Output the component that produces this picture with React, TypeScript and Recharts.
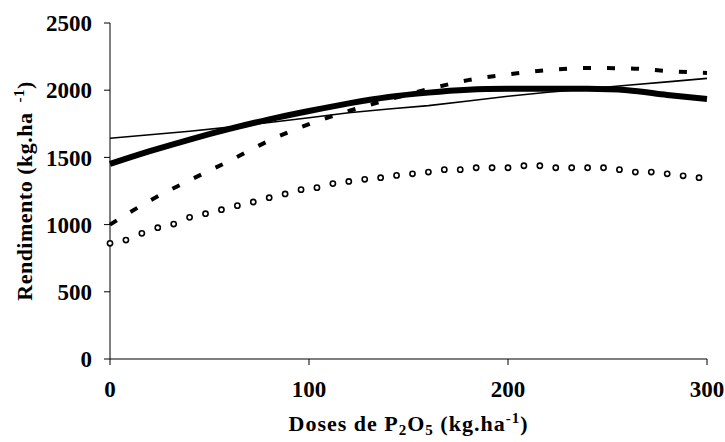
import { LineChart, Line, XAxis, YAxis, Label } from 'recharts'

// Doses de P2O5 (kg/ha) and yield (kg/ha)
const doses = [0, 20, 40, 60, 80, 100, 120, 140, 160, 180, 200, 220, 240, 260, 280, 300]
const thinLine = [1642, 1668, 1695, 1725, 1760, 1795, 1832, 1860, 1885, 1920, 1955, 1985, 2010, 2037, 2062, 2088]
const thickLine = [1451, 1546, 1633, 1712, 1783, 1845, 1902, 1950, 1982, 2003, 2010, 2011, 2010, 2000, 1965, 1935]
const dashedLine = [1000, 1178, 1330, 1474, 1625, 1748, 1845, 1930, 2008, 2075, 2118, 2150, 2165, 2163, 2143, 2128]

// the circle series is sampled much more densely
const circleDoses = [
  0, 8, 16, 24, 32, 40, 48, 56, 64, 72, 80, 88, 96, 104, 112, 120, 128, 136, 144,
  152, 160, 168, 176, 184, 192, 200, 208, 216, 224, 232, 240, 248, 256, 264, 272, 280, 288, 296,
]
const circleValues = [
  861, 885, 935, 977, 1004, 1054, 1081, 1111, 1141, 1168, 1200, 1228, 1260, 1275, 1305, 1321,
  1337, 1349, 1366, 1378, 1391, 1409, 1409, 1423, 1423, 1423, 1438, 1438, 1423, 1423, 1423, 1423,
  1409, 1391, 1391, 1378, 1363, 1349,
]

const xTicks = [0, 100, 200, 300]
const yTicks = [0, 500, 1000, 1500, 2000, 2500]

const toRows = (xs: number[], ys: number[]) => xs.map((x, i) => ({ x, y: ys[i] }))

const FONT = "'Liberation Serif', 'Times New Roman', serif"
const tickStyle = { fill: '#000', fontFamily: FONT, fontSize: 23, fontWeight: 700 }

const XTitle = ({ viewBox }: any) => {
  const cx = viewBox.x + viewBox.width / 2
  return (
    <text
      x={cx}
      y={431}
      textAnchor="middle"
      fontFamily={FONT}
      fontSize={22}
      fontWeight={700}
      letterSpacing={1}
      fill="#000"
    >
      Doses de P
      <tspan fontSize={15} dy={4}>2</tspan>
      <tspan fontSize={22} dy={-4}>O</tspan>
      <tspan fontSize={15} dy={4}>5</tspan>
      <tspan fontSize={22} dy={-4}> (kg.ha</tspan>
      <tspan fontSize={15} dy={-8}>-1</tspan>
      <tspan fontSize={22} dy={8}>)</tspan>
    </text>
  )
}

const YTitle = ({ viewBox }: any) => {
  const cy = viewBox.y + viewBox.height / 2
  return (
    <text
      x={0}
      y={0}
      transform={`translate(32, ${cy}) rotate(-90)`}
      textAnchor="middle"
      fontFamily={FONT}
      fontSize={22}
      fontWeight={700}
      letterSpacing={0.5}
      fill="#000"
    >
      Rendimento (kg.ha
      <tspan fontSize={15} dx={10} dy={-8}>-1</tspan>
      <tspan fontSize={22} dy={8}>)</tspan>
    </text>
  )
}

export default function App() {
  return (
    <div style={{ position: 'absolute', left: 0, top: 0, background: '#fff' }}>
      <LineChart width={725} height={442} margin={{ top: 23, right: 18, bottom: 0, left: 0 }}>
        <XAxis
          dataKey="x"
          type="number"
          domain={[0, 300]}
          ticks={xTicks}
          interval={0}
          height={83}
          tickSize={6}
          tickMargin={16}
          tick={tickStyle}
          axisLine={{ stroke: '#000' }}
          tickLine={{ stroke: '#000' }}
          allowDuplicatedCategory={false}
        >
          <Label content={XTitle} />
        </XAxis>
        <YAxis
          type="number"
          domain={[0, 2500]}
          ticks={yTicks}
          interval={0}
          width={110}
          tickSize={6}
          tickMargin={12}
          tick={tickStyle}
          axisLine={{ stroke: '#000' }}
          tickLine={{ stroke: '#000' }}
        >
          <Label content={YTitle} />
        </YAxis>
        <Line
          data={toRows(doses, thinLine)}
          dataKey="y"
          stroke="#000"
          strokeWidth={1.6}
          dot={false}
          isAnimationActive={false}
        />
        <Line
          data={toRows(doses, thickLine)}
          dataKey="y"
          type="monotone"
          stroke="#000"
          strokeWidth={6}
          dot={false}
          isAnimationActive={false}
        />
        <Line
          data={toRows(doses, dashedLine)}
          dataKey="y"
          type="monotone"
          stroke="#000"
          strokeWidth={4}
          strokeDasharray="8 16"
          dot={false}
          isAnimationActive={false}
        />
        <Line
          data={toRows(circleDoses, circleValues)}
          dataKey="y"
          stroke="none"
          dot={{ r: 2.6, fill: '#fff', stroke: '#000', strokeWidth: 1.6 }}
          isAnimationActive={false}
        />
      </LineChart>
    </div>
  )
}
